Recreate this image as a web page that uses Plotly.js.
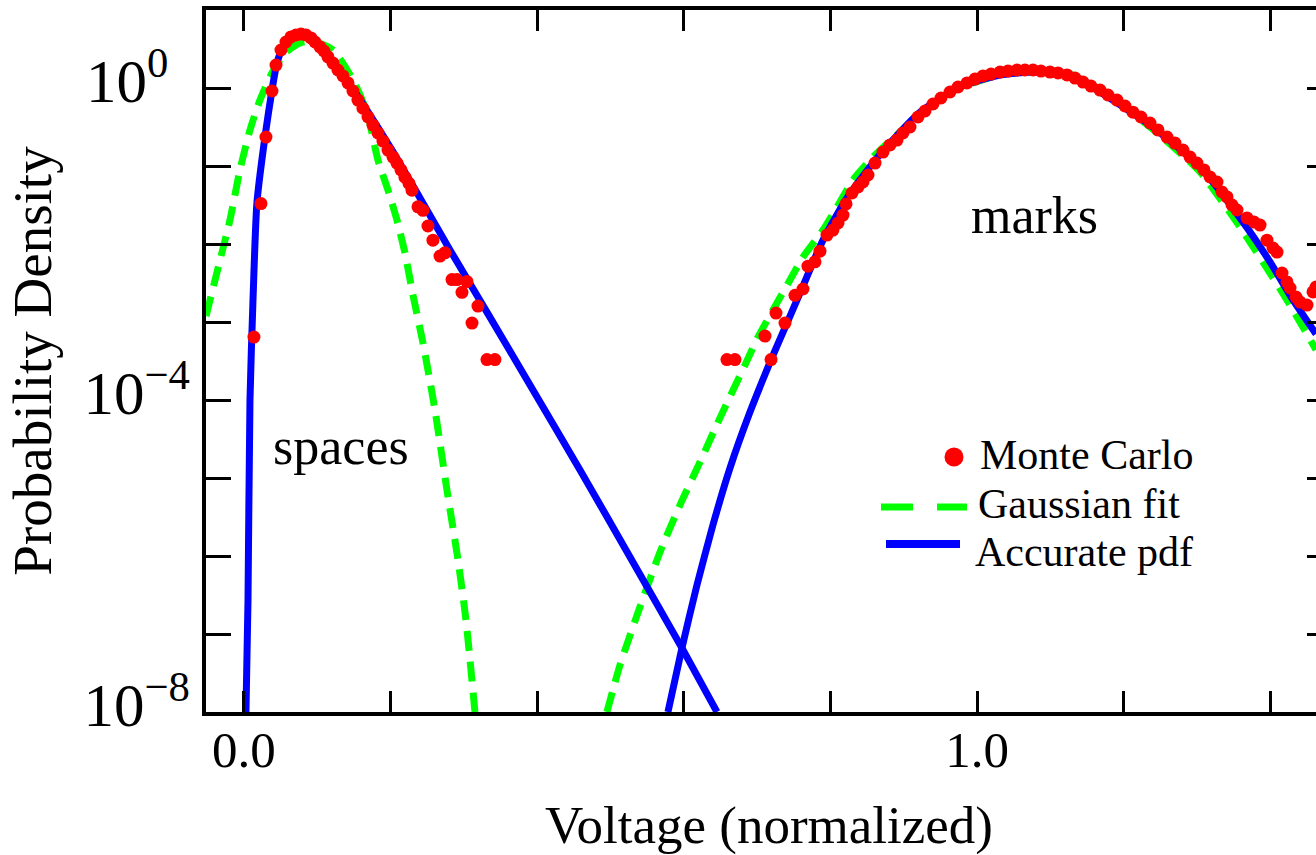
<!DOCTYPE html>
<html><head><meta charset="utf-8">
<script src="https://cdn.plot.ly/plotly-3.0.1.min.js"></script>
<style>html,body{margin:0;padding:0;overflow:hidden;background:#fff}#chart{width:1340px;height:855px}</style>
</head><body><div id="chart"></div><script>
// Monte Carlo histogram (spaces)
const spacesMcV = [0.0136,0.0232,0.0300,0.0382,0.0437,0.0505,0.0573,0.0641,0.0709,0.0778,0.0846,0.0914,0.0969,0.1037,0.1091,0.1146,0.1214,0.1282,0.1351,0.1419,0.1487,0.1555,0.1623,0.1692,0.1760,0.1828,0.1896,0.1965,0.2033,0.2087,0.2142,0.2196,0.2251,0.2292,0.2374,0.2442,0.2510,0.2578,0.2674,0.2742,0.2838,0.2906,0.2974,0.3042,0.3111,0.3192,0.3315,0.3424];
const spacesMcP = [6.4e-4,3.3e-2,0.235,0.915,1.97,3.07,3.89,4.51,4.78,4.92,4.78,4.38,3.89,3.36,2.98,2.50,2.09,1.70,1.43,1.16,0.915,0.70,0.55,0.425,0.335,0.265,0.209,0.160,0.130,0.109,0.089,0.072,0.060,0.049,0.030,0.027,0.017,0.0112,0.0070,0.0077,0.0035,0.0035,0.0024,0.0033,9.7e-4,1.6e-3,3.3e-4,3.3e-4];
// Monte Carlo histogram (marks)
const marksMcV = [0.6589,0.6698,0.7108,0.7190,0.7258,0.7381,0.7517,0.7626,0.7694,0.7790,0.7858,0.7954,0.8035,0.8104,0.8172,0.8213,0.8295,0.8377,0.8445,0.8513,0.8609,0.8718,0.8813,0.8909,0.8990,0.9086,0.9195,0.9291,0.9400,0.9509,0.9632,0.9741,0.9864,0.9973,1.0082,1.0191,1.0314,1.0423,1.0546,1.0655,1.0764,1.0873,1.0996,1.1105,1.1228,1.1337,1.1446,1.1555,1.1678,1.1787,1.1910,1.2019,1.2128,1.2237,1.2360,1.2469,1.2592,1.2701,1.2810,1.2906,1.3001,1.3097,1.3179,1.3274,1.3342,1.3411,1.3479,1.3547,1.3683,1.3779,1.3861,1.3956,1.4038,1.4093,1.4161,1.4229,1.4270,1.4352,1.4407,1.4502,1.4584,1.4625];
const marksMcP = [3.3e-4,3.3e-4,6.6e-4,3.3e-4,1.30e-3,9.7e-4,2.2e-3,2.65e-3,5.2e-3,5.9e-3,8.1e-3,0.0130,0.0151,0.0186,0.0235,0.0326,0.0451,0.0538,0.0624,0.0767,0.109,0.151,0.186,0.215,0.265,0.316,0.425,0.507,0.624,0.744,0.889,1.03,1.16,1.30,1.43,1.51,1.60,1.65,1.70,1.70,1.70,1.65,1.60,1.56,1.47,1.34,1.19,1.06,0.94,0.813,0.70,0.588,0.49,0.425,0.356,0.29,0.235,0.197,0.160,0.130,0.109,0.089,0.0723,0.0624,0.0464,0.0401,0.0316,0.0273,0.0216,0.0191,0.0175,0.0112,0.00889,0.00789,0.00425,0.00326,0.00273,0.00209,0.00180,0.00165,0.00243,0.00281];
// Gaussian fit
const spacesGaussV = [-0.0518,-0.0327,-0.0191,-0.0055,0.0082,0.0218,0.0382,0.0559,0.0764,0.0928,0.1214,0.1487,0.1678,0.1828,0.1965,0.2087,0.2196,0.2306,0.2442,0.2606,0.2769,0.2920,0.3029,0.3151];
const spacesGaussP = [1.19e-3,6.2e-3,0.0203,0.089,0.29,0.70,1.56,2.81,3.78,4.0,3.07,1.27,0.49,0.119,0.049,0.0203,0.0077,2.2e-3,5.4e-4,7.4e-5,7.0e-6,8.9e-7,1.5e-7,1e-8];
const marksGaussV = [0.4952,0.5130,0.5402,0.5675,0.5948,0.6221,0.6494,0.6835,0.7012,0.7217,0.7449,0.7626,0.7899,0.8090,0.8308,0.8581,0.8950,0.9632,1.0314,1.0791,1.1269,1.1678,1.2360,1.3042,1.3588,1.3997,1.4229,1.4447,1.4625];
const marksGaussP = [1e-8,4.0e-8,2.22e-7,1.12e-6,4.5e-6,1.6e-5,5.9e-5,2.81e-4,6.4e-4,1.43e-3,3.45e-3,6.8e-3,0.0151,0.0298,0.0662,0.130,0.273,0.89,1.47,1.65,1.51,0.94,0.316,0.0838,0.0165,4.25e-3,1.91e-3,8.6e-4,4.4e-4];
// Accurate pdf
const spacesPdfV = [0.0027,0.0055,0.0082,0.0123,0.0177,0.0286,0.0382,0.0450,0.0532,0.0628,0.0764,0.0900,0.1064,0.1378,0.1651,0.2019,0.2401,0.2810,0.3329,0.3902,0.4584,0.5266,0.5975,0.6453];
const spacesPdfP = [1e-8,2.7e-7,1e-4,1.9e-3,3.4e-2,0.235,0.94,2.09,3.36,4.38,4.92,4.51,3.07,1.38,0.57,0.160,0.0389,8.4e-3,1.27e-3,1.56e-4,1.27e-5,9.7e-7,6.6e-8,1e-8];
const marksPdfV = [0.5784,0.5975,0.6180,0.6398,0.6630,0.6903,0.7190,0.7408,0.7585,0.7899,0.8226,0.8636,0.9222,0.9768,1.0314,1.0791,1.1269,1.1678,1.2360,1.3042,1.3629,1.3997,1.4270,1.4625];
const marksPdfP = [1e-8,6.6e-8,4.25e-7,2.5e-6,1.34e-5,7.0e-5,3.26e-4,9.7e-4,2.35e-3,0.0112,0.0389,0.127,0.49,1.03,1.47,1.60,1.47,0.89,0.335,0.097,0.0191,5.9e-3,2.2e-3,7.0e-4];

const seriesNames = ['Monte Carlo','Gaussian fit','Accurate pdf'];
const regionLabels = ['spaces','marks'];
const xLabelVals = [0,1.0];
const xLabelText = ['0.0','1.0'];
const xOtherTicks = [0.2,0.4,0.6,0.8,1.2,1.4];
const yLabelVals = [1e-8,1e-4,1];
const yLabelText = ['10<sup>\u22128</sup>','10<sup>\u22124</sup>','10<sup>0\u2002</sup>'];
const yLongTicks = [1e-6,1e-2];
const yShortTicks = [1e-7,1e-5,1e-3,1e-1];

const RED='#ff0000', GREEN='#00ff00', BLUE='#0000ff';
const FONT='Liberation Serif, Times New Roman, serif';

const gaussLine = {color:GREEN, width:7, dash:'20px,11px', shape:'spline', smoothing:0.6};
const pdfLine = {color:BLUE, width:7, shape:'spline', smoothing:0.6};
const mcMarker = {color:RED, size:13, line:{width:0}};

const traces = [
  {x:spacesGaussV, y:spacesGaussP, mode:'lines', line:gaussLine, name:seriesNames[1], showlegend:false},
  {x:marksGaussV, y:marksGaussP, mode:'lines', line:gaussLine, name:seriesNames[1], showlegend:false},
  {x:spacesPdfV, y:spacesPdfP, mode:'lines', line:pdfLine, name:seriesNames[2], showlegend:false},
  {x:marksPdfV, y:marksPdfP, mode:'lines', line:pdfLine, name:seriesNames[2], showlegend:false},
  {x:spacesMcV, y:spacesMcP, mode:'markers', marker:mcMarker, name:seriesNames[0], showlegend:false, xaxis:'x', yaxis:'y2'},
  {x:marksMcV, y:marksMcP, mode:'markers', marker:mcMarker, name:seriesNames[0], showlegend:false, xaxis:'x2', yaxis:'y'}
];

// plot area in pixels: x 206..1332, y 10..712
const PL=206, PR=1332, PT=10, PB=712;
const px=(x)=>(x-PL)/(PR-PL), py=(y)=>(PB-y)/(PB-PT);
const XRANGE=[-0.0518,1.4843];

const layout = {
  width:1340, height:855,
  margin:{l:PL, r:1340-PR, t:PT, b:855-PB},
  paper_bgcolor:'#fff', plot_bgcolor:'#fff',
  showlegend:false,
  font:{family:FONT, color:'#000'},
  xaxis:{
    range:XRANGE, showgrid:false, zeroline:false,
    showline:true, linecolor:'#000', linewidth:4, mirror:'allticks',
    ticks:'inside', ticklen:21, tickwidth:3, tickcolor:'#000',
    tickmode:'array', tickvals:xLabelVals, showticklabels:false,
    minor:{tickmode:'array', tickvals:xOtherTicks, ticks:'inside', ticklen:21, tickwidth:3, tickcolor:'#000', showgrid:false}
  },
  xaxis2:{
    overlaying:'x', anchor:'free', position:0, side:'bottom',
    range:XRANGE, showgrid:false, zeroline:false, showline:false, ticks:'',
    tickmode:'array', tickvals:xLabelVals, ticktext:xLabelText,
    tickfont:{family:FONT, size:51, color:'#000'}, ticklabelstandoff:3,
    title:{text:'Voltage (normalized)', font:{family:FONT, size:53, color:'#000'}, standoff:36}
  },
  yaxis:{
    type:'log', range:[-8,1], showgrid:false, zeroline:false,
    showline:true, linecolor:'#000', linewidth:4, mirror:'allticks',
    ticks:'inside', ticklen:25, tickwidth:3, tickcolor:'#000',
    tickmode:'array', tickvals:yLabelVals, ticktext:yLabelText,
    minor:{tickmode:'array', tickvals:yShortTicks, ticks:'inside', ticklen:14, tickwidth:3, tickcolor:'#000', showgrid:false},
    tickfont:{family:FONT, size:61, color:'#000'}, ticklabelstandoff:0, ticklabelshift:-7
  },
  yaxis2:{
    type:'log', range:[-8,1], overlaying:'y', side:'left', showgrid:false, zeroline:false,
    showline:true, linecolor:'#000', linewidth:4, mirror:'allticks',
    ticks:'inside', ticklen:25, tickwidth:3, tickcolor:'#000',
    tickmode:'array', tickvals:yLongTicks, showticklabels:false,
    title:{text:'Probability Density', font:{family:FONT, size:55, color:'#000'}, standoff:134}
  },
  annotations:[
    {xref:'x', yref:'y', x:0.1323, y:-4.60, text:regionLabels[0], showarrow:false, font:{family:FONT, size:52, color:'#000'}, xanchor:'center', yanchor:'middle'},
    {xref:'x', yref:'y', x:1.078, y:-1.64, text:regionLabels[1], showarrow:false, font:{family:FONT, size:52, color:'#000'}, xanchor:'center', yanchor:'middle'},
    {xref:'paper', yref:'paper', x:px(978), y:py(455), text:seriesNames[0], showarrow:false, font:{family:FONT, size:42, color:'#000'}, xanchor:'left', yanchor:'middle'},
    {xref:'paper', yref:'paper', x:px(976), y:py(504), text:seriesNames[1], showarrow:false, font:{family:FONT, size:42, color:'#000'}, xanchor:'left', yanchor:'middle'},
    {xref:'paper', yref:'paper', x:px(973), y:py(552), text:seriesNames[2], showarrow:false, font:{family:FONT, size:42, color:'#000'}, xanchor:'left', yanchor:'middle'}
  ],
  shapes:[
    {type:'circle', xref:'paper', yref:'paper', xsizemode:'pixel', ysizemode:'pixel', xanchor:px(954), yanchor:py(457), x0:-9.5, x1:9.5, y0:-9.5, y1:9.5, fillcolor:RED, line:{width:0}},
    {type:'line', xref:'paper', yref:'paper', x0:px(881), x1:px(967), y0:py(507), y1:py(507), line:{color:GREEN, width:7, dash:'32px,24px'}},
    {type:'line', xref:'paper', yref:'paper', x0:px(886), x1:px(960), y0:py(544), y1:py(544), line:{color:BLUE, width:8}}
  ]
};

Plotly.newPlot('chart', traces, layout, {displayModeBar:false, staticPlot:true});
</script></body></html>
